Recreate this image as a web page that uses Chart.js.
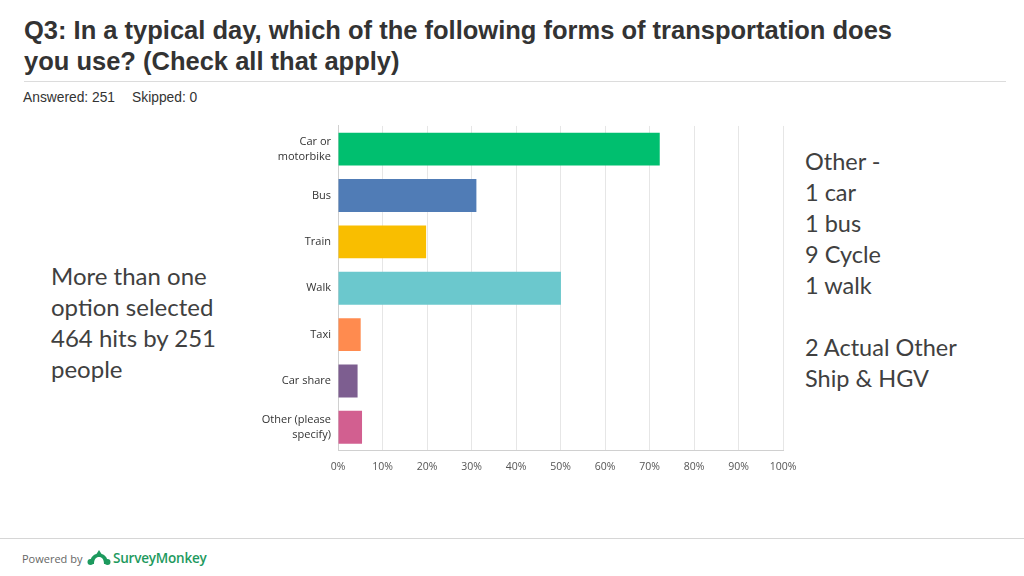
<!DOCTYPE html>
<html lang="en">
<head>
  <meta charset="UTF-8">
  <title>Q3 Transportation</title>
  <script src="https://cdn.jsdelivr.net/npm/chart.js"></script>
  <style>
    body {
      margin: 0;
      width: 1024px;
      height: 576px;
      background: #ffffff;
      position: relative;
      overflow: hidden;
      color: #333333;
    }
    #title {
      position: absolute;
      left: 24px;
      top: 15px;
      font-family: "Liberation Sans", Arial, sans-serif;
      font-weight: bold;
      font-size: 25.5px;
      line-height: 31px;
      color: #333333;
      white-space: nowrap;
    }
    #rule-top {
      position: absolute; left: 24px; top: 81px; width: 982px; height: 1px; background: #dcdcdc;
    }
    #stats {
      position: absolute; left: 23px; top: 90px;
      font-family: "Liberation Sans", Arial, sans-serif;
      font-size: 13.8px; color: #333333; white-space: nowrap;
    }
    #stats span + span { margin-left: 17px; }
    .note {
      position: absolute;
      font-family: Lato, "Open Sans", sans-serif;
      font-size: 24px;
      line-height: 31px;
      color: #404040;
      white-space: pre;
    }
    #chart-container {
      position: absolute;
      left: 240px;
      top: 104px;
      width: 570px;
      height: 386px;
    }
    #rule-bottom {
      position: absolute; left: 0; top: 538px; width: 1024px; height: 1px; background: #d6d6d6;
    }
    #footer {
      position: absolute; left: 22px; top: 551px;
      font-family: "Open Sans", sans-serif; font-size: 11px; color: #666666;
    }
    #footer b {
      font-family: "Open Sans", sans-serif; font-weight: 600; font-size: 13.5px; color: #1d9a5e;
      position: absolute; left: 91px; top: -2px; white-space: nowrap; letter-spacing: -0.2px;
    }
    #logo {
      position: absolute; left: 87px; top: 549px; width: 24px; height: 17px;
    }
  </style>
</head>
<body>
  <div id="title">Q3: In a typical day, which of the following forms of transportation does<br>you use? (Check all that apply)</div>
  <div id="rule-top"></div>
  <div id="stats"><span>Answered: 251</span><span>Skipped: 0</span></div>

  <div class="note" style="left:51px; top:260px;">More than one
option selected
464 hits by 251
people</div>

  <div class="note" style="left:805px; top:146px; font-size:23.5px;">Other -
1 car
1 bus
9 Cycle
1 walk

2 Actual Other
Ship &amp; HGV</div>

  <div id="chart-container">
    <canvas id="q3Chart"></canvas>
  </div>

  <div id="rule-bottom"></div>
  <svg id="logo" viewBox="0 0 24 17">
    <path d="M3 15 C3 8 7 4.5 12 4.5 C17 4.5 21 8 21 15 L17 15 C17 10.5 15 8 12 8 C9 8 7 10.5 7 15 Z" fill="#1d9a5e"/>
    <circle cx="3.5" cy="13" r="3" fill="#1d9a5e"/>
    <circle cx="20.5" cy="13" r="3" fill="#1d9a5e"/>
    <path d="M9.5 5 L12 1 L14.5 5 Z" fill="#1d9a5e"/>
  </svg>
  <div id="footer">Powered by <b>SurveyMonkey</b></div>

  <script>
    // answer choices (multi-line labels as arrays)
    const categories = [
      ['Car or', 'motorbike'],
      'Bus',
      'Train',
      'Walk',
      'Taxi',
      'Car share',
      ['Other (please', 'specify)']
    ];
    // percent of respondents
    const percents = [72.3, 31.1, 19.8, 50.1, 5.1, 4.4, 5.4];
    const barColors = ['#00bf6f', '#507cb6', '#f9be00', '#6bc8cd', '#ff8b4f', '#7d5e90', '#d25f90'];
    const xTicks = [0, 10, 20, 30, 40, 50, 60, 70, 80, 90, 100];

    const ctx = document.getElementById('q3Chart').getContext('2d');
    const q3Chart = new Chart(ctx, {
      type: 'bar',
      data: {
        labels: categories,
        datasets: [{
          data: percents,
          backgroundColor: barColors,
          borderWidth: 0,
          barPercentage: 0.71,
          categoryPercentage: 1.0
        }]
      },
      options: {
        indexAxis: 'y',
        responsive: true,
        maintainAspectRatio: false,
        animation: false,
        layout: {
          padding: { top: 10, right: 27, bottom: 0, left: 0 }
        },
        scales: {
          x: {
            min: 0,
            max: 100,
            afterBuildTicks: axis => { axis.ticks = xTicks.map(v => ({ value: v })); },
            afterFit: axis => { axis.height = 39.5; },
            grid: { color: '#e6e6e6', drawTicks: false, lineWidth: 1 },
            border: { color: '#d0d0d0' },
            ticks: {
              padding: 10,
              color: '#555555',
              font: { family: 'Open Sans', size: 10.5 },
              callback: v => v + '%'
            }
          },
          y: {
            afterFit: axis => { axis.width = 98; },
            grid: { display: false, drawTicks: false },
            border: { color: '#d0d0d0' },
            ticks: {
              padding: 7,
              color: '#333333',
              font: { family: 'Open Sans', size: 11, lineHeight: 1.36 }
            }
          }
        },
        plugins: {
          legend: { display: false },
          tooltip: { enabled: false }
        }
      }
    });
  </script>
</body>
</html>
